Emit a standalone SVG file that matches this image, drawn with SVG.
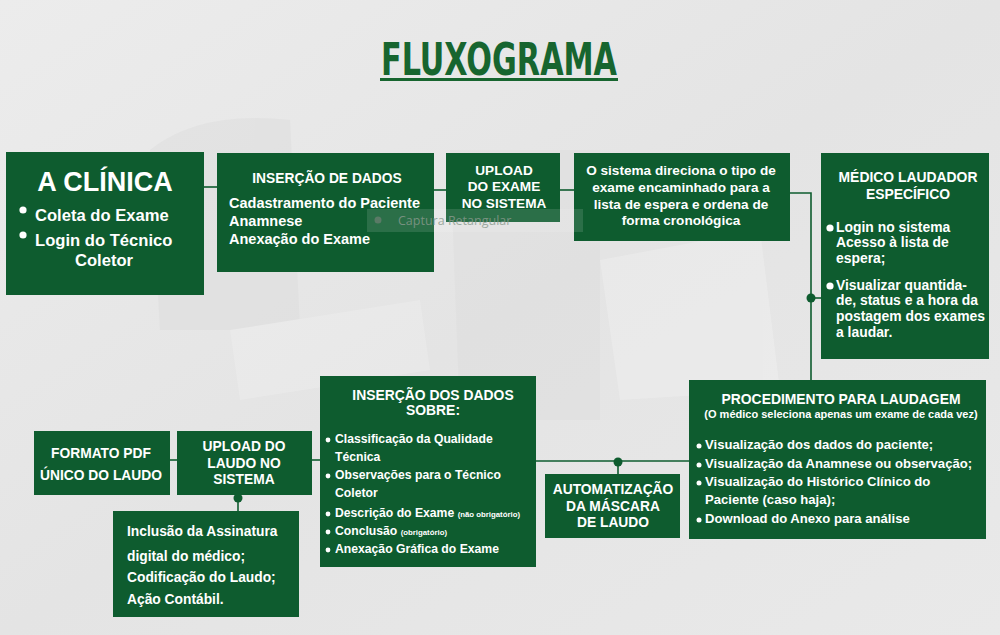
<svg xmlns="http://www.w3.org/2000/svg" width="1000" height="635" viewBox="0 0 1000 635">
<defs>
<style>
.box{fill:#0e5c2f}
.t{font-family:"Liberation Sans",Arial,sans-serif;font-weight:bold;fill:#ffffff}
.c{text-anchor:middle}
.ln{stroke:#0e5c2f;stroke-width:1.6;fill:none}
.dot{fill:#0e5c2f}
.b{fill:#ffffff}
</style>
<linearGradient id="bg" x1="0" y1="0" x2="1" y2="1">
<stop offset="0" stop-color="#ececec"/>
<stop offset="0.5" stop-color="#e4e4e4"/>
<stop offset="1" stop-color="#e9e9e9"/>
</linearGradient>
</defs>
<rect width="1000" height="635" fill="url(#bg)"/>
<g id="background-shapes" opacity="0.4">
<path d="M150 150 Q200 110 290 120 L300 330 L160 330 Z" fill="#dadada"/>
<path d="M450 150 L600 150 L600 420 L460 420 Z" fill="#dcdcdc"/>
<path d="M600 260 L760 230 L780 390 L620 400 Z" fill="#f2f2f2"/>
<path d="M230 330 L420 300 L430 370 L240 400 Z" fill="#f0f0f0"/>
</g>
<g id="title">
<text x="499" y="75" text-anchor="middle" font-family="'Liberation Sans Narrow','DejaVu Sans Condensed','Liberation Sans',sans-serif" font-weight="bold" font-size="44" fill="#17652f" textLength="236" lengthAdjust="spacingAndGlyphs">FLUXOGRAMA</text>
<rect x="380" y="78" width="238" height="3" fill="#17652f"/>
</g>
<g id="connectors">
<line class="ln" x1="204" y1="187" x2="217" y2="187"/>
<line class="ln" x1="434" y1="190" x2="446" y2="190"/>
<line class="ln" x1="560" y1="190" x2="574" y2="190"/>
<polyline class="ln" points="790,193 811,193 811,380"/>
<line class="ln" x1="811" y1="298" x2="821" y2="298"/>
<circle class="dot" cx="811" cy="298" r="4.5"/>
<line class="ln" x1="536" y1="461" x2="689" y2="461"/>
<line class="ln" x1="618" y1="461" x2="618" y2="474"/>
<circle class="dot" cx="618" cy="462" r="4.5"/>
<line class="ln" x1="312" y1="460" x2="320" y2="460"/>
<line class="ln" x1="170" y1="460" x2="177" y2="460"/>
<line class="ln" x1="238" y1="495" x2="238" y2="511"/>
<circle class="dot" cx="238" cy="498" r="4.5"/>
</g>
<g id="clinica">
<rect class="box" x="6" y="152" width="198" height="143"/>
<text class="t c" x="105" y="191" font-size="27">A CLÍNICA</text>
<circle class="b" cx="23" cy="210" r="3.6"/>
<text class="t" x="35" y="221" font-size="16.6">Coleta do Exame</text>
<circle class="b" cx="23" cy="235" r="3.6"/>
<text class="t" x="35" y="246" font-size="16.6">Login do Técnico</text>
<text class="t c" x="104" y="266" font-size="16.6">Coletor</text>
</g>
<g id="insercao-dados">
<rect class="box" x="217" y="153" width="217" height="119"/>
<text class="t c" x="327" y="183" font-size="13.8">INSERÇÃO DE DADOS</text>
<text class="t" x="229" y="208" font-size="14.5">Cadastramento do Paciente</text>
<text class="t" x="229" y="226" font-size="14.5">Anamnese</text>
<text class="t" x="229" y="244" font-size="14.5">Anexação do Exame</text>
</g>
<g id="upload-exame">
<rect class="box" x="446" y="153" width="114" height="69"/>
<text class="t c" x="504" y="175" font-size="13.6">UPLOAD</text>
<text class="t c" x="504" y="191" font-size="13.6">DO EXAME</text>
<text class="t c" x="504" y="208" font-size="13.6">NO SISTEMA</text>
</g>
<g id="sistema-direciona">
<rect class="box" x="574" y="153" width="216" height="88"/>
<text class="t c" x="681" y="175" font-size="13.6">O sistema direciona o tipo de</text>
<text class="t c" x="681" y="192" font-size="13.6">exame encaminhado para a</text>
<text class="t c" x="681" y="209" font-size="13.6">lista de espera e ordena de</text>
<text class="t c" x="681" y="225" font-size="13.6">forma cronológica</text>
</g>
<g id="captura-overlay">
<rect x="367" y="209" width="216" height="23" fill="#ffffff" opacity="0.12"/>
<circle cx="378" cy="220" r="3.5" fill="#6f7f74" opacity="0.7"/>
<text x="398" y="225" font-family="'Open Sans','Liberation Sans',sans-serif" font-size="12.5" fill="#8a9a8e" opacity="0.8">Captura Retangular</text>
</g>
<g id="medico-laudador">
<rect class="box" x="821" y="153" width="168" height="206"/>
<text class="t c" x="908" y="182" font-size="13.9">MÉDICO LAUDADOR</text>
<text class="t c" x="908" y="199" font-size="13.9">ESPECÍFICO</text>
<circle class="b" cx="830" cy="228" r="3.6"/>
<text class="t" x="836" y="232" font-size="13.9">Login no sistema</text>
<text class="t" x="836" y="247" font-size="13.9">Acesso à lista de</text>
<text class="t" x="836" y="263" font-size="13.9">espera;</text>
<circle class="b" cx="830" cy="286" r="3.6"/>
<text class="t" x="836" y="290" font-size="13.9">Visualizar quantida-</text>
<text class="t" x="836" y="305" font-size="13.9">de, status e a hora da</text>
<text class="t" x="836" y="321" font-size="13.9">postagem dos exames</text>
<text class="t" x="836" y="337" font-size="13.9">a laudar.</text>
</g>
<g id="procedimento">
<rect class="box" x="689" y="380" width="297" height="159"/>
<text class="t c" x="841" y="404" font-size="13.9">PROCEDIMENTO PARA LAUDAGEM</text>
<text class="t c" x="841" y="418" font-size="11">(O médico seleciona apenas um exame de cada vez)</text>
<circle class="b" cx="699" cy="446" r="2.5"/>
<text class="t" x="705" y="449" font-size="13.1">Visualização dos dados do paciente;</text>
<circle class="b" cx="699" cy="465" r="2.5"/>
<text class="t" x="705" y="468" font-size="13.1">Visualização da Anamnese ou observação;</text>
<circle class="b" cx="699" cy="483" r="2.5"/>
<text class="t" x="705" y="486" font-size="13.1">Visualização do Histórico Clínico do</text>
<text class="t" x="705" y="504" font-size="13.1">Paciente (caso haja);</text>
<circle class="b" cx="699" cy="520" r="2.5"/>
<text class="t" x="705" y="523" font-size="13.1">Download do Anexo para análise</text>
</g>
<g id="insercao-dados-sobre">
<rect class="box" x="320" y="376" width="216" height="191"/>
<text class="t c" x="433" y="400" font-size="13.9">INSERÇÃO DOS DADOS</text>
<text class="t c" x="433" y="415" font-size="13.9">SOBRE:</text>
<circle class="b" cx="328" cy="440" r="2.4"/>
<text class="t" x="335" y="443" font-size="12.2">Classificação da Qualidade</text>
<text class="t" x="335" y="461" font-size="12.2">Técnica</text>
<circle class="b" cx="328" cy="476" r="2.4"/>
<text class="t" x="335" y="479" font-size="12.2">Observações para o Técnico</text>
<text class="t" x="335" y="497" font-size="12.2">Coletor</text>
<circle class="b" cx="328" cy="514" r="2.4"/>
<text class="t" x="335" y="517" font-size="12.2">Descrição do Exame <tspan font-size="7.8">(não obrigatório)</tspan></text>
<circle class="b" cx="328" cy="532" r="2.4"/>
<text class="t" x="335" y="535" font-size="12.2">Conclusão <tspan font-size="7.8">(obrigatório)</tspan></text>
<circle class="b" cx="328" cy="550" r="2.4"/>
<text class="t" x="335" y="553" font-size="12.2">Anexação Gráfica do Exame</text>
</g>
<g id="automatizacao">
<rect class="box" x="545" y="474" width="135" height="64"/>
<text class="t c" x="613" y="494" font-size="13.8">AUTOMATIZAÇÃO</text>
<text class="t c" x="613" y="511" font-size="13.8">DA MÁSCARA</text>
<text class="t c" x="613" y="527" font-size="13.8">DE LAUDO</text>
</g>
<g id="upload-laudo">
<rect class="box" x="177" y="431" width="135" height="64"/>
<text class="t c" x="244" y="451" font-size="13.8">UPLOAD DO</text>
<text class="t c" x="244" y="468" font-size="13.8">LAUDO NO</text>
<text class="t c" x="244" y="484" font-size="13.8">SISTEMA</text>
</g>
<g id="formato-pdf">
<rect class="box" x="34" y="431" width="136" height="64"/>
<text class="t c" x="101" y="458" font-size="13.8">FORMATO PDF</text>
<text class="t c" x="101" y="480" font-size="13.8">ÚNICO DO LAUDO</text>
</g>
<g id="assinatura">
<rect class="box" x="113" y="511" width="186" height="106"/>
<text class="t" x="127" y="536" font-size="13.8">Inclusão da Assinatura</text>
<text class="t" x="127" y="561" font-size="13.8">digital do médico;</text>
<text class="t" x="127" y="582" font-size="13.8">Codificação do Laudo;</text>
<text class="t" x="127" y="604" font-size="13.8">Ação Contábil.</text>
</g>
</svg>
